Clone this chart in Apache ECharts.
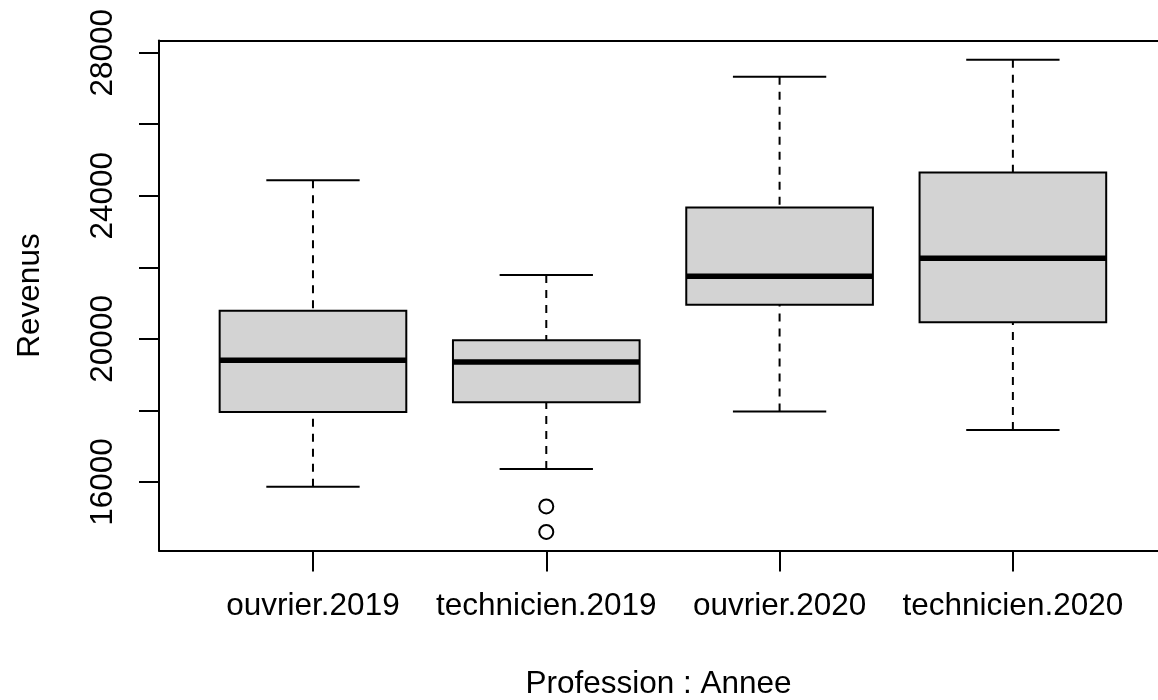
<!DOCTYPE html>
<html>
<head>
<meta charset="utf-8">
<script src="https://cdn.jsdelivr.net/npm/echarts@6/dist/echarts.min.js"></script>
<style>
html,body{margin:0;padding:0;background:#fff;}
#chart{width:1158px;height:700px;}
</style>
</head>
<body>
<div id="chart"></div>
<script>
// ---- data ----
const categories = ['ouvrier.2019', 'technicien.2019', 'ouvrier.2020', 'technicien.2020'];
const whiskerLow  = [15868, 16362, 17969, 17450];
const quartile1   = [17953, 18232, 20956, 20464];
const medians     = [19404, 19356, 21751, 22251];
const quartile3   = [20788, 19962, 23674, 24651];
const whiskerHigh = [24436, 21785, 27330, 27805];
const outlierCategory = [1, 1];          // index into categories
const outlierValues   = [15318, 14603];
const yTickValues  = [16000, 18000, 20000, 22000, 24000, 26000, 28000];
const yLabelValues = [16000, 20000, 24000, 28000];
const xTickValues  = [1, 2, 3, 4];

const FONT = "'Liberation Sans', Arial, Helvetica, sans-serif";
const FS = 31.5;
const boxData = categories.map((c, i) => [i + 1, whiskerLow[i], quartile1[i], medians[i], quartile3[i], whiskerHigh[i]]);
const outlierData = outlierValues.map((v, i) => [outlierCategory[i] + 1, v]);

const BOX_HALF = 0.4, CAP_HALF = 0.2;
const X_MIN = 0.34, X_MAX = 4.622; // plot region runs past the right edge of the picture

function renderBox(params, api) {
  const x = api.value(0);
  const lo = api.value(1), q1 = api.value(2), md = api.value(3), q3 = api.value(4), hi = api.value(5);
  const pL = api.coord([x - BOX_HALF, q3]);
  const pR = api.coord([x + BOX_HALF, q1]);
  const pMdL = api.coord([x - BOX_HALF, md]);
  const pMdR = api.coord([x + BOX_HALF, md]);
  const pHi = api.coord([x, hi]);
  const pQ3 = api.coord([x, q3]);
  const pQ1 = api.coord([x, q1]);
  const pLo = api.coord([x, lo]);
  const cHiL = api.coord([x - CAP_HALF, hi]), cHiR = api.coord([x + CAP_HALF, hi]);
  const cLoL = api.coord([x - CAP_HALF, lo]), cLoR = api.coord([x + CAP_HALF, lo]);
  const solid = { stroke: '#000', lineWidth: 2 };
  const dashed = { stroke: '#000', lineWidth: 2, lineDash: [8, 7] };
  return {
    type: 'group',
    children: [
      { type: 'line', shape: { x1: pHi[0], y1: pHi[1], x2: pQ3[0], y2: pQ3[1] }, style: dashed },
      { type: 'line', shape: { x1: pLo[0], y1: pLo[1], x2: pQ1[0], y2: pQ1[1] }, style: dashed },
      { type: 'line', shape: { x1: cHiL[0], y1: cHiL[1], x2: cHiR[0], y2: cHiR[1] }, style: solid },
      { type: 'line', shape: { x1: cLoL[0], y1: cLoL[1], x2: cLoR[0], y2: cLoR[1] }, style: solid },
      { type: 'rect', shape: { x: pL[0], y: pL[1], width: pR[0] - pL[0], height: pR[1] - pL[1] },
        style: { fill: '#d3d3d3', stroke: '#000', lineWidth: 2 } },
      { type: 'line', shape: { x1: pMdL[0], y1: pMdL[1], x2: pMdR[0], y2: pMdR[1] },
        style: { stroke: '#000', lineWidth: 5.5 } }
    ]
  };
}

const lineStyle2 = { color: '#000', width: 2 };
const chart = echarts.init(document.getElementById('chart'), null, { renderer: 'canvas' });
chart.setOption({
  animation: false,
  backgroundColor: '#fff',
  grid: { left: 159, top: 40.5, right: 0, height: 510, show: false, containLabel: false, outerBoundsMode: 'none' },
  xAxis: [{
    type: 'value', min: X_MIN, max: X_MAX, position: 'bottom',
    name: 'Profession : Annee', nameLocation: 'middle', nameGap: 118,
    nameTextStyle: { color: '#000', fontSize: FS, fontFamily: FONT },
    axisLine: { show: true, onZero: false, lineStyle: lineStyle2 },
    axisTick: { show: true, customValues: xTickValues, length: 21, lineStyle: lineStyle2 },
    axisLabel: { customValues: xTickValues, color: '#000', fontSize: FS, fontFamily: FONT, margin: 40,
      formatter: v => categories[Math.round(v) - 1] || '' },
    splitLine: { show: false }
  }, {
    type: 'value', min: X_MIN, max: X_MAX, position: 'top',
    axisLine: { show: true, onZero: false, lineStyle: lineStyle2 },
    axisTick: { show: false }, axisLabel: { show: false }, splitLine: { show: false }
  }],
  yAxis: {
    type: 'value', min: 14085, max: 28340,
    name: 'Revenus', nameLocation: 'middle', nameGap: 113,
    nameTextStyle: { color: '#000', fontSize: FS, fontFamily: FONT },
    axisLine: { show: true, onZero: false, lineStyle: lineStyle2 },
    axisTick: { show: true, customValues: yTickValues, length: 20, lineStyle: lineStyle2 },
    axisLabel: { customValues: yLabelValues, rotate: 90, color: '#000', fontSize: FS, fontFamily: FONT, margin: 40,
      formatter: v => String(v) },
    splitLine: { show: false }
  },
  series: [
    { type: 'custom', renderItem: renderBox, data: boxData, clip: false, z: 2 },
    { type: 'scatter', data: outlierData, symbol: 'circle', symbolSize: 14,
      itemStyle: { color: '#ffffff', borderColor: '#000000', borderWidth: 2, opacity: 1 }, z: 3 }
  ]
});
</script>
</body>
</html>
